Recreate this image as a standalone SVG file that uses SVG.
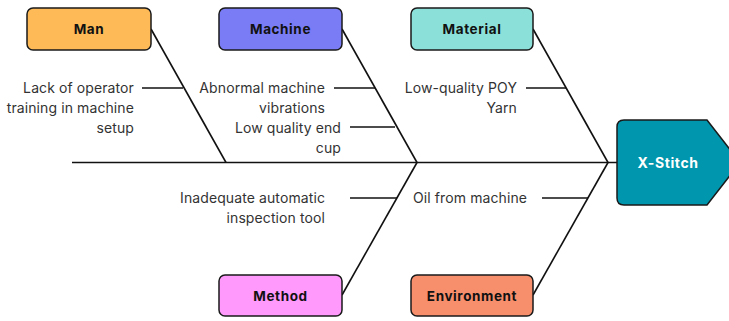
<svg xmlns="http://www.w3.org/2000/svg" width="729" height="321" viewBox="0 0 729 321">
<style>
.box{stroke:#1a1a1a;stroke-width:1.5}
.lbl{font-family:Inter,"Liberation Sans",sans-serif;font-size:13.5px;font-weight:700;fill:#111;text-anchor:middle;dominant-baseline:central;letter-spacing:0.6px}
.t{font-family:Inter,"Liberation Sans",sans-serif;font-size:14px;fill:#333;text-anchor:end;letter-spacing:0.1px}
.ts{text-anchor:start}
.ln{stroke:#111;stroke-width:1.6;fill:none}
</style>
<rect width="729" height="321" fill="#fff"/>
<g id="connectors">
<line class="ln" x1="72" y1="162.5" x2="618" y2="162.5"/>
<line class="ln" x1="151" y1="29" x2="226" y2="162.5"/>
<line class="ln" x1="342" y1="29" x2="417" y2="162.5"/>
<line class="ln" x1="533" y1="29" x2="608" y2="162.5"/>
<line class="ln" x1="342" y1="295" x2="417" y2="162.5"/>
<line class="ln" x1="533" y1="295" x2="608" y2="162.5"/>
<line class="ln" x1="142" y1="88" x2="183" y2="88"/>
<line class="ln" x1="334" y1="88" x2="375" y2="88"/>
<line class="ln" x1="350" y1="127" x2="395" y2="127"/>
<line class="ln" x1="526" y1="88" x2="566" y2="88"/>
<line class="ln" x1="350" y1="198" x2="397" y2="198"/>
<line class="ln" x1="542" y1="198" x2="588" y2="198"/>
</g>
<g id="man">
<rect class="box" x="27" y="8" width="124" height="42" rx="6" fill="#FDBA57"/>
<text class="lbl" x="89" y="29">Man</text>
</g>
<g id="machine">
<rect class="box" x="219" y="8" width="123" height="42" rx="6" fill="#7A7CF5"/>
<text class="lbl" x="280.5" y="29">Machine</text>
</g>
<g id="material">
<rect class="box" x="411" y="8" width="122" height="42" rx="6" fill="#8CE0DA"/>
<text class="lbl" x="472" y="29">Material</text>
</g>
<g id="method">
<rect class="box" x="219" y="275" width="123" height="41" rx="6" fill="#FF99FC"/>
<text class="lbl" x="280.5" y="295.5">Method</text>
</g>
<g id="environment">
<rect class="box" x="411" y="275" width="122" height="41" rx="6" fill="#F78E6C"/>
<text class="lbl" x="472" y="295.5">Environment</text>
</g>
<g id="x-stitch">
<path class="box" d="M624,120 H707 L740,162.5 L707,205 H624 Q617,205 617,198 V127 Q617,120 624,120 Z" fill="#0096AD"/>
<text class="lbl" x="668" y="162.5" style="fill:#fff;font-size:14px">X-Stitch</text>
</g>
<g id="causes">
<text class="t" x="134" y="93">Lack of operator</text>
<text class="t" x="134" y="113">training in machine</text>
<text class="t" x="134" y="133">setup</text>
<text class="t" x="325" y="93">Abnormal machine</text>
<text class="t" x="325" y="113">vibrations</text>
<text class="t" x="341" y="133">Low quality end</text>
<text class="t" x="341" y="153">cup</text>
<text class="t" x="517" y="93">Low-quality POY</text>
<text class="t" x="517" y="113">Yarn</text>
<text class="t" x="325" y="203">Inadequate automatic</text>
<text class="t" x="325" y="223">inspection tool</text>
<text class="t ts" x="413" y="203">Oil from machine</text>
</g>
</svg>
